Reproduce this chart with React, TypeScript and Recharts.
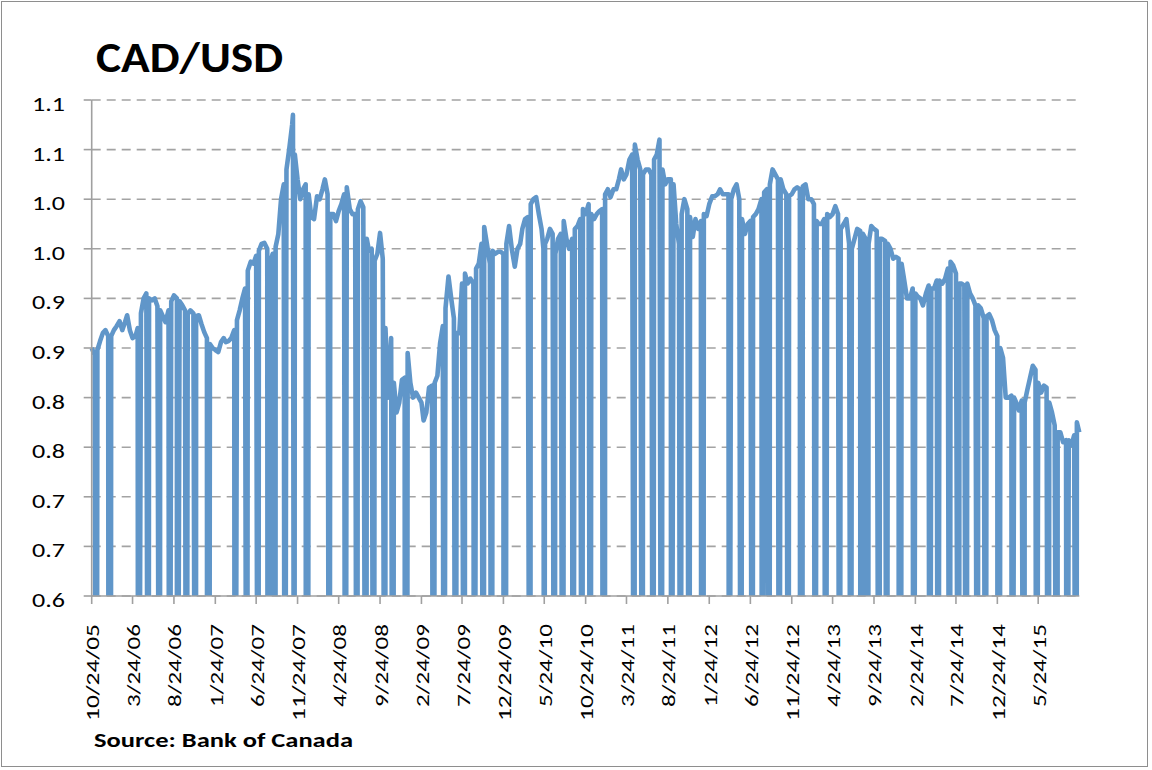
import React from 'react';
import { LineChart, Line, XAxis, YAxis, CartesianGrid } from 'recharts';

// CAD/USD noon rate (about three readings a month)
const rates2005: [string, number][] = [
  ['10-24', 0.85], ['11-04', 0.843], ['11-14', 0.848], ['11-24', 0.857], ['12-04', 0.865], ['12-14', 0.868], ['12-24', 0.862],
];
const rates2006: [string, number][] = [
  ['01-04', 0.862], ['01-14', 0.868], ['01-24', 0.872], ['02-04', 0.877], ['02-14', 0.868], ['02-24', 0.876],
  ['03-04', 0.883], ['03-14', 0.868], ['03-24', 0.86], ['04-04', 0.862], ['04-12', 0.87], ['04-24', 0.885],
  ['05-04', 0.9], ['05-14', 0.905], ['05-24', 0.9], ['06-04', 0.898], ['06-14', 0.9], ['06-24', 0.892],
  ['07-04', 0.888], ['07-14', 0.882], ['07-24', 0.876], ['08-04', 0.888], ['08-14', 0.897], ['08-24', 0.903],
  ['09-04', 0.9], ['09-14', 0.897], ['09-24', 0.893], ['10-04', 0.888], ['10-14', 0.884], ['10-24', 0.888],
  ['11-04', 0.885], ['11-14', 0.882], ['11-24', 0.883], ['12-04', 0.874], ['12-14', 0.866], ['12-24', 0.86],
];
const rates2007: [string, number][] = [
  ['01-04', 0.854], ['01-14', 0.85], ['01-24', 0.848], ['02-04', 0.846], ['02-14', 0.856], ['02-24', 0.86],
  ['03-04', 0.856], ['03-14', 0.857], ['03-24', 0.86], ['04-04', 0.868], ['04-14', 0.878], ['04-24', 0.888],
  ['05-04', 0.9], ['05-14', 0.91], ['05-24', 0.928], ['06-04', 0.937], ['06-14', 0.935], ['06-24', 0.943],
  ['07-04', 0.948], ['07-14', 0.955], ['07-24', 0.956], ['08-04', 0.95], ['08-14', 0.935], ['08-24', 0.945],
  ['09-04', 0.952], ['09-14', 0.965], ['09-24', 1.0], ['10-04', 1.015], ['10-14', 1.03], ['10-24', 1.05],
  ['11-04', 1.075], ['11-07', 1.085], ['11-14', 1.045], ['11-24', 1.02], ['12-04', 1.0], ['12-14', 1.01], ['12-24', 1.015],
];
const rates2008: [string, number][] = [
  ['01-04', 1.005], ['01-14', 0.982], ['01-24', 0.98], ['02-04', 1.003], ['02-14', 1.0], ['02-24', 1.01],
  ['03-04', 1.02], ['03-14', 1.005], ['03-24', 0.985], ['04-04', 0.985], ['04-14', 0.978], ['04-24', 0.988],
  ['05-04', 0.995], ['05-14', 1.005], ['05-24', 1.012], ['06-04', 0.99], ['06-14', 0.985], ['06-24', 0.985],
  ['07-04', 0.99], ['07-14', 0.998], ['07-24', 0.992], ['08-06', 0.96], ['08-14', 0.948], ['08-24', 0.95],
  ['09-04', 0.938], ['09-14', 0.945], ['09-24', 0.966], ['10-04', 0.94], ['10-14', 0.87], ['10-24', 0.8],
  ['11-04', 0.86], ['11-14', 0.815], ['11-24', 0.785], ['12-04', 0.795], ['12-14', 0.818], ['12-24', 0.82],
];
const rates2009: [string, number][] = [
  ['01-04', 0.845], ['01-14', 0.815], ['01-24', 0.8], ['02-04', 0.805], ['02-14', 0.8], ['02-24', 0.795],
  ['03-04', 0.777], ['03-14', 0.785], ['03-24', 0.81], ['04-04', 0.812], ['04-14', 0.815], ['04-24', 0.822],
  ['05-04', 0.855], ['05-14', 0.872], ['05-24', 0.89], ['06-04', 0.922], ['06-14', 0.9], ['06-24', 0.88],
  ['07-04', 0.865], ['07-14', 0.865], ['07-24', 0.915], ['08-04', 0.925], ['08-14', 0.915], ['08-24', 0.92],
  ['09-04', 0.915], ['09-14', 0.93], ['09-24', 0.935], ['10-04', 0.955], ['10-14', 0.972], ['10-24', 0.955],
  ['11-04', 0.935], ['11-14', 0.948], ['11-24', 0.945], ['12-04', 0.947], ['12-14', 0.947], ['12-24', 0.945],
];
const rates2010: [string, number][] = [
  ['01-04', 0.955], ['01-14', 0.973], ['01-24', 0.95], ['02-04', 0.932], ['02-14', 0.95], ['02-24', 0.955],
  ['03-04', 0.97], ['03-14', 0.98], ['03-24', 0.982], ['04-04', 0.995], ['04-14', 1.0], ['04-24', 1.002],
  ['05-04', 0.985], ['05-14', 0.97], ['05-21', 0.95], ['05-27', 0.955], ['06-04', 0.96], ['06-14', 0.97], ['06-24', 0.965],
  ['07-04', 0.945], ['07-14', 0.96], ['07-24', 0.965], ['08-04', 0.978], ['08-14', 0.96], ['08-24', 0.95],
  ['09-04', 0.96], ['09-14', 0.97], ['09-24', 0.973], ['10-04', 0.98], ['10-14', 0.99], ['10-24', 0.985],
  ['11-04', 0.995], ['11-14', 0.985], ['11-24', 0.98], ['12-04', 0.985], ['12-14', 0.988], ['12-24', 0.99],
];
const rates2011: [string, number][] = [
  ['01-04', 1.005], ['01-14', 1.01], ['01-24', 1.002], ['02-04', 1.01], ['02-14', 1.01], ['02-24', 1.02],
  ['03-04', 1.03], ['03-14', 1.02], ['03-24', 1.025], ['04-04', 1.04], ['04-14', 1.045], ['04-24', 1.055],
  ['05-04', 1.04], ['05-14', 1.03], ['05-24', 1.025], ['06-04', 1.03], ['06-14', 1.03], ['06-24', 1.025],
  ['07-04', 1.04], ['07-14', 1.045], ['07-24', 1.06], ['08-04', 1.03], ['08-14', 1.015], ['08-24', 1.02],
  ['09-04', 1.02], ['09-14', 1.015], ['09-24', 0.975], ['10-04', 0.955], ['10-14', 0.985], ['10-24', 1.0],
  ['11-04', 0.99], ['11-14', 0.982], ['11-24', 0.962], ['12-04', 0.98], ['12-14', 0.97], ['12-24', 0.978],
];
const rates2012: [string, number][] = [
  ['01-04', 0.985], ['01-14', 0.983], ['01-24', 0.995], ['02-04', 1.003], ['02-14', 1.003], ['02-24', 1.005],
  ['03-04', 1.01], ['03-14', 1.005], ['03-24', 1.005], ['04-04', 1.005], ['04-14', 1.0], ['04-24', 1.01],
  ['05-04', 1.015], ['05-14', 1.0], ['05-24', 0.98], ['06-04', 0.965], ['06-14', 0.975], ['06-24', 0.978],
  ['07-04', 0.982], ['07-14', 0.985], ['07-24', 0.99], ['08-04', 1.0], ['08-14', 1.007], ['08-24', 1.01],
  ['09-04', 1.015], ['09-14', 1.03], ['09-24', 1.025], ['10-04', 1.02], ['10-14', 1.02], ['10-24', 1.01],
  ['11-04', 1.005], ['11-14', 1.003], ['11-24', 1.005], ['12-04', 1.01], ['12-14', 1.012], ['12-24', 1.01],
];
const rates2013: [string, number][] = [
  ['01-04', 1.013], ['01-14', 1.015], ['01-24', 1.0], ['02-04', 1.0], ['02-14', 0.995], ['02-24', 0.978],
  ['03-04', 0.975], ['03-14', 0.975], ['03-24', 0.98], ['04-04', 0.985], ['04-14', 0.982], ['04-24', 0.985],
  ['05-04', 0.993], ['05-14', 0.985], ['05-24', 0.97], ['06-04', 0.975], ['06-14', 0.98], ['06-24', 0.955],
  ['07-04', 0.95], ['07-14', 0.96], ['07-24', 0.97], ['08-04', 0.968], ['08-14', 0.965], ['08-24', 0.96],
  ['09-04', 0.955], ['09-14', 0.973], ['09-24', 0.97], ['10-04', 0.968], ['10-16', 0.96], ['10-24', 0.96],
  ['11-04', 0.958], ['11-14', 0.955], ['11-24', 0.95], ['12-04', 0.94], ['12-14', 0.942], ['12-24', 0.94],
];
const rates2014: [string, number][] = [
  ['01-04', 0.935], ['01-14', 0.918], ['01-24', 0.9], ['02-04', 0.9], ['02-14', 0.91], ['02-24', 0.905],
  ['03-04', 0.902], ['03-14', 0.9], ['03-24', 0.893], ['04-04', 0.905], ['04-14', 0.913], ['04-24', 0.91],
  ['05-04', 0.91], ['05-14', 0.918], ['05-24', 0.918], ['06-04', 0.915], ['06-14', 0.92], ['06-24', 0.93],
  ['07-04', 0.937], ['07-14', 0.933], ['07-24', 0.925], ['08-06', 0.915], ['08-14', 0.915], ['08-24', 0.913],
  ['09-04', 0.915], ['09-14', 0.905], ['09-24', 0.9], ['10-04', 0.893], ['10-14', 0.893], ['10-24', 0.89],
  ['11-04', 0.88], ['11-14', 0.882], ['11-24', 0.884], ['12-04', 0.878], ['12-14', 0.868], ['12-24', 0.862],
];
const rates2015: [string, number][] = [
  ['01-04', 0.85], ['01-14', 0.84], ['01-24', 0.8], ['02-04', 0.8], ['02-14', 0.802], ['02-24', 0.8],
  ['03-04', 0.795], ['03-14', 0.787], ['03-24', 0.797], ['04-04', 0.795], ['04-14', 0.808], ['04-24', 0.82],
  ['05-04', 0.832], ['05-14', 0.828], ['05-24', 0.815], ['06-04', 0.805], ['06-14', 0.812], ['06-24', 0.81],
  ['07-04', 0.795], ['07-14', 0.785], ['07-24', 0.772], ['08-04', 0.765], ['08-14', 0.765], ['08-24', 0.755],
  ['09-04', 0.757], ['09-14', 0.757], ['09-24', 0.752], ['10-04', 0.762], ['10-14', 0.775], ['10-23', 0.765],
];

// bank holidays: no rate published, the series drops to zero on these days
const holidays2005 = ['11-11', '12-26', '12-27'];
const holidays2006 = ['01-02', '04-14', '05-22', '07-03', '08-07', '09-04', '10-09', '11-13', '12-25', '12-26'];
const holidays2007 = ['01-01', '04-06', '05-21', '07-02', '08-06', '09-03', '10-08', '11-12', '12-25', '12-26'];
const holidays2008 = ['01-01', '03-21', '05-19', '07-01', '08-04', '09-01', '10-13', '11-11', '12-25', '12-26'];
const holidays2009 = ['01-01', '04-10', '05-18', '07-01', '08-03', '09-07', '10-12', '11-11', '12-25', '12-28'];
const holidays2010 = ['01-01', '04-02', '05-24', '07-01', '08-02', '09-06', '10-11', '11-11', '12-27', '12-28'];
const holidays2011 = ['01-03', '04-22', '05-23', '07-01', '08-01', '09-05', '10-10', '11-11', '12-26', '12-27'];
const holidays2012 = ['01-02', '04-06', '05-21', '07-02', '08-06', '09-03', '10-08', '11-12', '12-25', '12-26'];
const holidays2013 = ['01-01', '02-18', '03-29', '05-20', '07-01', '08-05', '09-02', '10-14', '11-11', '12-25', '12-26'];
const holidays2014 = ['01-01', '02-17', '04-18', '05-19', '07-01', '08-04', '09-01', '10-13', '11-11', '12-25', '12-26'];
const holidays2015 = ['01-01', '02-16', '04-03', '05-18', '07-01', '08-03', '09-07', '10-12'];

const xTickLabels = [
  '10/24/05', '3/24/06', '8/24/06', '1/24/07', '6/24/07', '11/24/07', '4/24/08', '9/24/08',
  '2/24/09', '7/24/09', '12/24/09', '5/24/10', '10/24/10', '3/24/11', '8/24/11', '1/24/12',
  '6/24/12', '11/24/12', '4/24/13', '9/24/13', '2/24/14', '7/24/14', '12/24/14', '5/24/15',
];
const yTickValues = [0.6, 0.65, 0.7, 0.75, 0.8, 0.85, 0.9, 0.95, 1.0, 1.05, 1.1];
const yTickLabels = ['0.6', '0.7', '0.7', '0.8', '0.8', '0.9', '0.9', '1.0', '1.0', '1.1', '1.1'];

const START = Date.UTC(2005, 9, 24);
const dayIndex = (y: number, m: number, d: number) => Math.round((Date.UTC(y, m - 1, d) - START) / 86400000);

const years: [number, [string, number][], string[]][] = [
  [2005, rates2005, holidays2005], [2006, rates2006, holidays2006], [2007, rates2007, holidays2007],
  [2008, rates2008, holidays2008], [2009, rates2009, holidays2009], [2010, rates2010, holidays2010],
  [2011, rates2011, holidays2011], [2012, rates2012, holidays2012], [2013, rates2013, holidays2013],
  [2014, rates2014, holidays2014], [2015, rates2015, holidays2015],
];

const rows: { t: number; rate: number }[] = [];
years.forEach(([y, rates, hols]) => {
  rates.forEach(([md, v]) => {
    const [m, d] = md.split('-').map(Number);
    rows.push({ t: dayIndex(y, m, d), rate: v });
  });
  hols.forEach((md) => {
    const [m, d] = md.split('-').map(Number);
    rows.push({ t: dayIndex(y, m, d), rate: 0 });
  });
});
rows.sort((a, b) => a.t - b.t);

const xTicks = xTickLabels.map((s) => {
  const [m, d, yy] = s.split('/').map(Number);
  return dayIndex(2000 + yy, m, d);
});
const lastDay = rows[rows.length - 1].t;

const FONT = 'Carlito, Calibri, Lato, sans-serif';

// the reference font is wide: stretch glyph runs to its measured advances
const textWidth = (s: string) =>
  s.split('').reduce((w, ch) => w + (ch === '/' ? 6.5 : ch === '.' ? 5 : 14), 0);

const XTick = (props: any) => {
  const { x, y, payload } = props;
  const label = xTickLabels[xTicks.indexOf(payload.value)];
  const tx = x + 1;
  const ty = y + 18;
  return (
    <text
      x={tx}
      y={ty}
      transform={`rotate(-90, ${tx}, ${ty})`}
      textAnchor="end"
      dominantBaseline="central"
      fontFamily={FONT}
      fontSize={19}
      textLength={textWidth(label)}
      lengthAdjust="spacingAndGlyphs"
      fill="#000"
    >
      {label}
    </text>
  );
};

const YTick = (props: any) => {
  const { y, payload, index } = props;
  const i = yTickValues.indexOf(payload.value);
  const label = yTickLabels[i >= 0 ? i : index];
  return (
    <text
      x={65}
      y={y + 4}
      textAnchor="end"
      dominantBaseline="central"
      fontFamily={FONT}
      fontSize={19.5}
      textLength={textWidth(label)}
      lengthAdjust="spacingAndGlyphs"
      fill="#000"
    >
      {label}
    </text>
  );
};

export default function App() {
  return (
    <div style={{ position: 'absolute', left: 0, top: 0, width: 1152, height: 770, background: '#fff' }}>
      <div
        style={{
          position: 'absolute', left: 1, top: 1, width: 1147, height: 766,
          border: '1.5px solid #8e8e8e', boxSizing: 'border-box',
        }}
      />
      <LineChart
        width={1152}
        height={770}
        data={rows}
        margin={{ top: 100, right: 72.7, bottom: 54, left: 31.7 }}
      >
        <CartesianGrid vertical={false} stroke="#a3a3a3" strokeWidth={1.6} strokeDasharray="9 6" />
        <XAxis
          dataKey="t"
          type="number"
          domain={[0, lastDay]}
          ticks={xTicks}
          interval={0}
          height={120}
          stroke="#a0a0a0"
          strokeWidth={1.6}
          tickSize={8}
          tick={<XTick />}
        />
        <YAxis
          type="number"
          domain={[0.6, 1.1]}
          allowDataOverflow
          ticks={yTickValues}
          interval={0}
          width={60}
          stroke="#a0a0a0"
          strokeWidth={1.6}
          tickSize={8}
          tick={<YTick />}
        />
        <Line
          type="linear"
          dataKey="rate"
          stroke="#6096c9"
          strokeWidth={4.6}
          dot={false}
          strokeLinejoin="round"
          isAnimationActive={false}
        />
      </LineChart>
      <svg
        width={1152}
        height={770}
        style={{ position: 'absolute', left: 0, top: 0, pointerEvents: 'none' }}
      >
        <text
          x={96}
          y={72}
          fontFamily={FONT}
          fontWeight="bold"
          fontSize={42}
          textLength={187}
          lengthAdjust="spacingAndGlyphs"
          fill="#000"
        >
          CAD/USD
        </text>
        <text
          x={94}
          y={747}
          fontFamily={FONT}
          fontWeight="bold"
          fontSize={21}
          textLength={259}
          lengthAdjust="spacingAndGlyphs"
          fill="#000"
        >
          Source: Bank of Canada
        </text>
      </svg>
    </div>
  );
}
